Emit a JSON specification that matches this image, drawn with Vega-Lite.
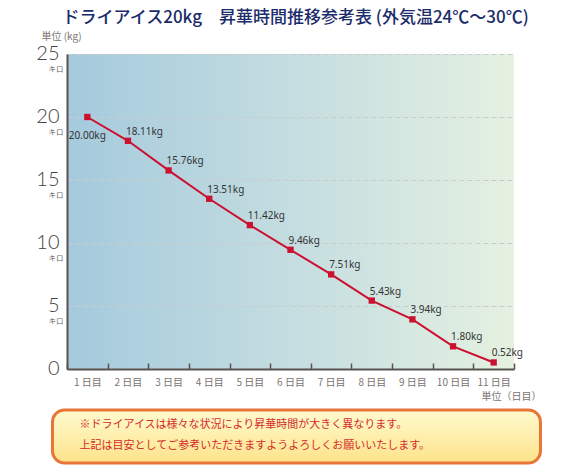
{
  "$schema": "https://vega.github.io/schema/vega-lite/v6.json",
  "padding": {"left": 35, "top": 9, "right": 5, "bottom": 5},
  "background": "white",
  "title": {
    "text": "ドライアイス20kg　昇華時間推移参考表 (外気温24℃〜30℃)",
    "font": "Noto Sans CJK JP",
    "fontSize": 17,
    "fontWeight": 500,
    "color": "#1b2c6b",
    "anchor": "middle",
    "offset": 4
  },
  "spacing": 7,
  "center": true,
  "config": {
    "font": "Noto Sans CJK JP"
  },
  "vconcat": [
    {
      "width": 447,
      "height": 315,
      "view": {
        "stroke": null,
        "fill": {
          "gradient": "linear",
          "x1": 0, "y1": 0, "x2": 1, "y2": 0,
          "stops": [
            {"offset": 0, "color": "#a5cadd"},
            {"offset": 0.5, "color": "#c4dde0"},
            {"offset": 1, "color": "#e5f1e1"}
          ]
        }
      },
      "data": {
        "values": [
          {"day": 1, "kg": 20.00, "label": "20.00kg"},
          {"day": 2, "kg": 18.11, "label": "18.11kg"},
          {"day": 3, "kg": 15.76, "label": "15.76kg"},
          {"day": 4, "kg": 13.51, "label": "13.51kg"},
          {"day": 5, "kg": 11.42, "label": "11.42kg"},
          {"day": 6, "kg": 9.46, "label": "9.46kg"},
          {"day": 7, "kg": 7.51, "label": "7.51kg"},
          {"day": 8, "kg": 5.43, "label": "5.43kg"},
          {"day": 9, "kg": 3.94, "label": "3.94kg"},
          {"day": 10, "kg": 1.80, "label": "1.80kg"},
          {"day": 11, "kg": 0.52, "label": "0.52kg"}
        ]
      },
      "encoding": {
        "x": {
          "field": "day",
          "type": "ordinal",
          "scale": {"type": "band", "paddingInner": 0, "paddingOuter": 0},
          "axis": {
            "tickBand": "extent",
            "tickSize": -6,
            "tickColor": "#5a5250",
            "tickWidth": 1.5,
            "domainColor": "#5a5250",
            "domainWidth": 2,
            "grid": false,
            "labelExpr": "isValid(datum.value) ? datum.value + ' 日目' : ''",
            "labelAngle": 0,
            "labelFontSize": 10,
            "labelColor": "#7a7370",
            "labelPadding": 14,
            "title": "単位（日目）",
            "titleFontSize": 10,
            "titleFontWeight": "normal",
            "titleColor": "#7a7370",
            "titleAnchor": "end",
            "titleAlign": "right",
            "titleBaseline": "middle",
            "titleX": 474,
            "titleY": 27
          }
        }
      },
      "layer": [
        {
          "mark": {
            "type": "line",
            "color": "#cc1030",
            "strokeWidth": 2,
            "point": {"shape": "square", "size": 40, "filled": true, "color": "#cc1030", "opacity": 1}
          },
          "encoding": {
            "y": {
              "field": "kg",
              "type": "quantitative",
              "scale": {"domain": [0, 25]},
              "axis": {
                "values": [0, 5, 10, 15, 20, 25],
                "grid": true,
                "gridDash": [5, 3],
                "gridColor": "#c9cccc",
                "ticks": false,
                "domainColor": "#5a5250",
                "domainWidth": 2,
                "labelFont": "Lato",
                "labelFontWeight": 300,
                "labelFontSize": 20,
                "labelColor": "#4a4240",
                "labelPadding": 8,
                "labelBaseline": "middle",
                "labelOffset": -1,
                "title": "単位 (kg)",
                "titleAngle": 0,
                "titleFontSize": 10,
                "titleFontWeight": "normal",
                "titleColor": "#7a7370",
                "titleAlign": "left",
                "titleBaseline": "middle",
                "titleX": -26,
                "titleY": -18
              }
            }
          }
        },
        {
          "transform": [{"filter": "datum.day > 1"}],
          "mark": {"type": "text", "align": "left", "baseline": "bottom", "dx": -2, "dy": -4, "fontSize": 10, "color": "#333333", "font": "Noto Sans"},
          "encoding": {
            "y": {
              "field": "kg",
              "type": "quantitative",
              "scale": {"domain": [0, 25]},
              "axis": {
                "orient": "left",
                "values": [5, 10, 15, 20, 25],
                "labelExpr": "'キロ'",
                "grid": false,
                "domain": false,
                "ticks": false,
                "labelFontSize": 7.5,
                "labelColor": "#6b6461",
                "labelPadding": 4,
                "labelOffset": 15,
                "title": null
              }
            },
            "text": {"field": "label"}
          }
        },
        {
          "transform": [{"filter": "datum.day == 1"}],
          "mark": {"type": "text", "align": "center", "baseline": "middle", "dy": 19, "fontSize": 10, "color": "#333333", "font": "Noto Sans"},
          "encoding": {
            "y": {"field": "kg", "type": "quantitative", "scale": {"domain": [0, 25]}, "axis": null},
            "text": {"field": "label"}
          }
        }
      ],
      "resolve": {"axis": {"y": "independent"}}
    },
    {
      "width": 488,
      "height": 53,
      "view": {
        "stroke": "#e8763a",
        "strokeWidth": 3,
        "cornerRadius": 12,
        "fill": {
          "gradient": "linear",
          "x1": 0, "y1": 0, "x2": 0, "y2": 1,
          "stops": [
            {"offset": 0, "color": "#fffbcf"},
            {"offset": 1, "color": "#fde38a"}
          ]
        }
      },
      "data": {
        "values": [
          {"line": 1, "text": "※ドライアイスは様々な状況により昇華時間が大きく異なります。"},
          {"line": 2, "text": "　上記は目安としてご参考いただきますようよろしくお願いいたします。"}
        ]
      },
      "mark": {"type": "text", "align": "left", "baseline": "middle", "dx": 27, "dy": -1, "fontSize": 11, "color": "#d42a2a", "font": "Noto Sans CJK JP"},
      "encoding": {
        "x": {"datum": 0, "type": "quantitative", "scale": {"domain": [0, 1]}, "axis": null},
        "y": {
          "field": "line",
          "type": "ordinal",
          "scale": {"type": "point", "padding": 0.8},
          "axis": {"orient": "right", "labelOpacity": 0, "ticks": false, "domain": false, "grid": false, "title": null, "labelPadding": 8, "labelFontSize": 10}
        },
        "text": {"field": "text"}
      }
    }
  ]
}
